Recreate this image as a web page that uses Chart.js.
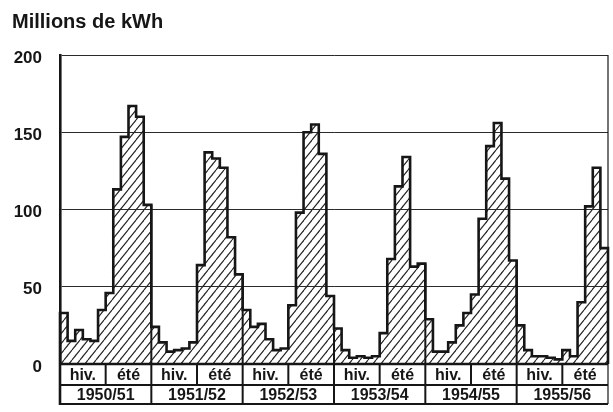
<!DOCTYPE html>
<html>
<head>
<meta charset="utf-8">
<script src="https://cdn.jsdelivr.net/npm/chart.js@4"></script>
<style>
  html, body { margin: 0; padding: 0; background: #fff; }
</style>
</head>
<body>
<canvas id="chart" width="613" height="412"></canvas>
<script>
const years = ['1950/51', '1951/52', '1952/53', '1953/54', '1954/55', '1955/56'];
const seasons = ['hiv.', 'été'];
const months = ['oct', 'nov', 'déc', 'jan', 'fév', 'mar', 'avr', 'mai', 'jun', 'jul', 'aoû', 'sep'];
const yTitle = 'Millions de kWh';

// monthly production, Oct -> Sep
const y1950 = [33, 15, 22, 16, 15, 35, 46, 113, 147, 167, 160, 103];
const y1951 = [24, 14, 8, 9, 10, 14, 64, 137, 133, 127, 82, 58];
const y1952 = [35, 24, 26, 16, 9, 10, 38, 98, 150, 155, 136, 44];
const y1953 = [23, 9, 4, 5, 4, 5, 20, 68, 115, 134, 63, 65];
const y1954 = [29, 8, 8, 14, 25, 33, 45, 94, 141, 156, 120, 67];
const y1955 = [25, 9, 5, 5, 4, 3, 9, 5, 40, 102, 127, 75];

const values = [].concat(y1950, y1951, y1952, y1953, y1954, y1955);
const labels = [];
years.forEach(y => months.forEach(m => labels.push(m + ' ' + y)));

const INK = '#161616';
const FONT = '"Liberation Sans", Arial, sans-serif';

function hatch() {
  const w = 8, h = 10;
  const c = document.createElement('canvas');
  c.width = w; c.height = h;
  const g = c.getContext('2d');
  g.strokeStyle = '#222';
  g.lineWidth = 1.1;
  g.beginPath();
  for (let k = -1; k <= 1; k++) {
    g.moveTo(k * w, h);
    g.lineTo(k * w + w, 0);
  }
  g.stroke();
  return g.createPattern(c, 'repeat');
}

const outline = {
  id: 'outline',
  afterDatasetsDraw(chart) {
    const ctx = chart.ctx;
    const bars = chart.getDatasetMeta(0).data;
    const base = chart.scales.y.getPixelForValue(0);
    ctx.save();
    ctx.strokeStyle = INK;
    ctx.lineWidth = 2.6;
    ctx.lineJoin = 'miter';
    ctx.beginPath();
    bars.forEach((b, i) => {
      const l = b.x - b.width / 2, r = b.x + b.width / 2;
      if (i === 0) ctx.moveTo(l, base);
      ctx.lineTo(l, b.y);
      ctx.lineTo(r, b.y);
      if (i === bars.length - 1) ctx.lineTo(r, base);
    });
    ctx.stroke();
    // year dividers inside the bars
    ctx.lineWidth = 2;
    ctx.beginPath();
    for (let k = 1; k < years.length; k++) {
      const a = bars[k * 12 - 1], b = bars[k * 12];
      const x = a.x + a.width / 2;
      ctx.moveTo(x, base);
      ctx.lineTo(x, Math.min(a.y, b.y));
    }
    ctx.stroke();
    ctx.restore();
  },
  afterDraw(chart) {
    const ctx = chart.ctx;
    const area = chart.chartArea;
    const bars = chart.getDatasetMeta(0).data;
    const base = chart.scales.y.getPixelForValue(0);
    const row1 = base + 21, row2 = base + 40;
    const left = b => b.x - b.width / 2;
    const right = b => b.x + b.width / 2;
    ctx.save();
    ctx.strokeStyle = INK;
    // right frame
    ctx.lineWidth = 1.2;
    ctx.beginPath();
    ctx.moveTo(area.right, area.top);
    ctx.lineTo(area.right, row2);
    ctx.stroke();
    // horizontal rules
    ctx.lineWidth = 2.6;
    ctx.beginPath();
    ctx.moveTo(area.left, base); ctx.lineTo(area.right, base);
    ctx.stroke();
    ctx.lineWidth = 2;
    ctx.beginPath();
    ctx.moveTo(area.left, row1); ctx.lineTo(area.right, row1);
    ctx.moveTo(area.left, row2); ctx.lineTo(area.right, row2);
    ctx.stroke();
    // left axis continues through the table
    ctx.lineWidth = 2.6;
    ctx.beginPath();
    ctx.moveTo(area.left, base); ctx.lineTo(area.left, row2 + 1);
    ctx.stroke();

    ctx.lineWidth = 2;
    ctx.fillStyle = INK;
    ctx.textAlign = 'center';
    ctx.textBaseline = 'middle';
    years.forEach((yr, k) => {
      const x0 = left(bars[k * 12]);
      const xm = left(bars[k * 12 + 6]);
      const x1 = right(bars[k * 12 + 11]);
      ctx.beginPath();
      ctx.moveTo(xm, base); ctx.lineTo(xm, row1);
      if (k > 0) { ctx.moveTo(x0, base); ctx.lineTo(x0, row2); }
      ctx.stroke();
      ctx.font = 'bold 16px ' + FONT;
      ctx.fillText(seasons[0], (x0 + xm) / 2, (base + row1) / 2 + 1);
      ctx.fillText(seasons[1], (xm + x1) / 2, (base + row1) / 2 + 1);
      ctx.font = 'bold 16px ' + FONT;
      ctx.fillText(yr, (x0 + x1) / 2, (row1 + row2) / 2 + 1);
    });

    // axis title
    ctx.textAlign = 'left';
    ctx.textBaseline = 'alphabetic';
    ctx.font = 'bold 20px ' + FONT;
    ctx.fillText(yTitle, 12, 28);
    ctx.restore();
  }
};

new Chart(document.getElementById('chart'), {
  type: 'bar',
  data: {
    labels: labels,
    datasets: [{
      data: values,
      backgroundColor: hatch(),
      borderWidth: 0,
      categoryPercentage: 1,
      barPercentage: 1
    }]
  },
  options: {
    responsive: false,
    animation: false,
    devicePixelRatio: 1,
    layout: { padding: { top: 55, right: 5, bottom: 48, left: 0 } },
    plugins: {
      legend: { display: false },
      tooltip: { enabled: false },
      title: { display: false }
    },
    scales: {
      x: { display: false, offset: true, grid: { display: false } },
      y: {
        min: 0,
        max: 200,
        afterFit: s => { s.width = 60; },
        ticks: {
          stepSize: 50,
          color: INK,
          padding: 18,
          labelOffset: 3,
          font: { family: FONT, size: 17, weight: 'bold' }
        },
        grid: { color: '#2a2a2a', lineWidth: 1, drawTicks: false },
        border: { display: true, color: INK, width: 2.6 }
      }
    }
  },
  plugins: [outline]
});
</script>
</body>
</html>
